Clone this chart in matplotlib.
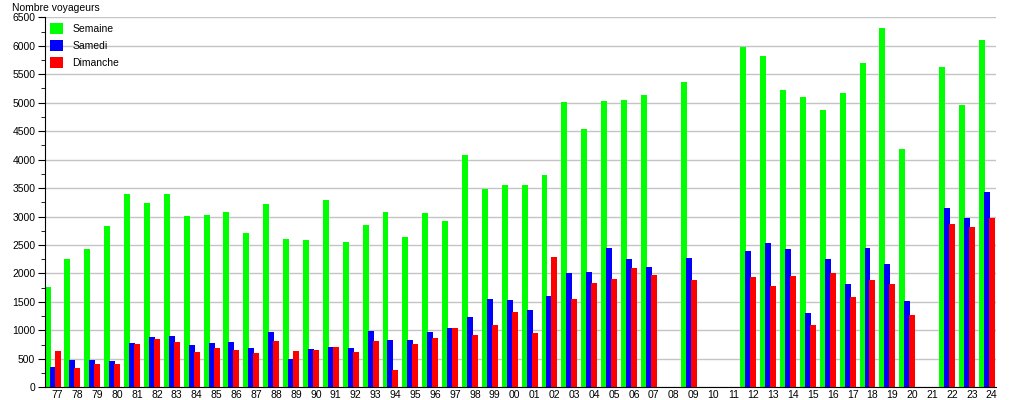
import matplotlib.pyplot as plt
from matplotlib.ticker import MultipleLocator
import numpy as np

# Years (two-digit labels) and passenger counts
years = ['77', '78', '79', '80', '81', '82', '83', '84', '85', '86', '87', '88',
         '89', '90', '91', '92', '93', '94', '95', '96', '97', '98', '99', '00',
         '01', '02', '03', '04', '05', '06', '07', '08', '09', '10', '11', '12',
         '13', '14', '15', '16', '17', '18', '19', '20', '21', '22', '23', '24']

semaine = [1757, 2260, 2435, 2834, 3396, 3238, 3396, 3009, 3027, 3080, 2711, 3220,
           2605, 2588, 3290, 2553, 2852, 3080, 2641, 3062, 2922, 4082, 3484, 3555,
           3555, 3730, 5012, 4538, 5030, 5047, 5134, 0, 5364, 0, 0, 5979,
           5821, 5224, 5100, 4872, 5171, 5698, 6313, 4187, 0, 5628, 4960, 6102]

samedi = [362, 480, 480, 462, 778, 884, 901, 743, 778, 796, 690, 972,
          497, 673, 708, 690, 989, 831, 831, 972, 1042, 1235, 1551, 1534,
          1358, 1604, 2008, 2026, 2447, 2254, 2114, 0, 2272, 0, 0, 2395,
          2535, 2430, 1306, 2254, 1815, 2447, 2166, 1516, 0, 3150, 2975, 3431]

dimanche = [643, 344, 409, 409, 761, 849, 796, 620, 690, 655, 603, 813,
            638, 655, 708, 620, 813, 304, 761, 866, 1042, 919, 1095, 1323,
            954, 2289, 1551, 1833, 1903, 2096, 1973, 0, 1885, 0, 0, 1938,
            1780, 1956, 1095, 2008, 1587, 1885, 1815, 1270, 0, 2869, 2817, 2975]

plt.rcParams['font.family'] = ['Liberation Sans', 'DejaVu Sans']

fig = plt.figure(figsize=(10.15, 4.0), dpi=100)
ax = fig.add_axes([45 / 1015, 12.7 / 400, 950.5 / 1015, 370 / 400])

x = np.arange(len(years))
w = 0.3
ax.bar(x - 0.5, semaine, width=w, color='#00ff00', label='Semaine', zorder=2)
ax.bar(x - 0.25, samedi, width=w, color='#0000ff', label='Samedi', zorder=3)
ax.bar(x, dimanche, width=w, color='#ff0000', label='Dimanche', zorder=4)

ax.set_xlim(-0.63, 47.19)
ax.set_ylim(0, 6500)
ax.set_xticks(x)
ax.set_xticklabels(years, fontsize=7.5)
ax.yaxis.set_major_locator(MultipleLocator(500))
ax.yaxis.set_minor_locator(MultipleLocator(250))
ax.tick_params(axis='y', which='major', length=5, labelsize=7.5, pad=2)
ax.tick_params(axis='y', which='minor', length=3)
ax.tick_params(axis='x', length=0, pad=2)

ax.grid(True, axis='y', color='#c4c4c4', linewidth=1, zorder=0)
ax.set_axisbelow(True)
ax.spines['top'].set_visible(False)
ax.spines['right'].set_visible(False)
ax.spines['left'].set_color('black')
ax.spines['bottom'].set_color('black')

ax.legend(loc='upper left', bbox_to_anchor=(0, 1), frameon=False, fontsize=7.5,
          handlelength=1.25, handleheight=1.25, labelspacing=0.62,
          handletextpad=0.9, borderaxespad=0.1, borderpad=0.4)

fig.text(12 / 1015, 1 - 8 / 400, 'Nombre voyageurs', fontsize=7.5,
         ha='left', va='center')

fig.savefig('out.png', dpi=100, facecolor='white')
